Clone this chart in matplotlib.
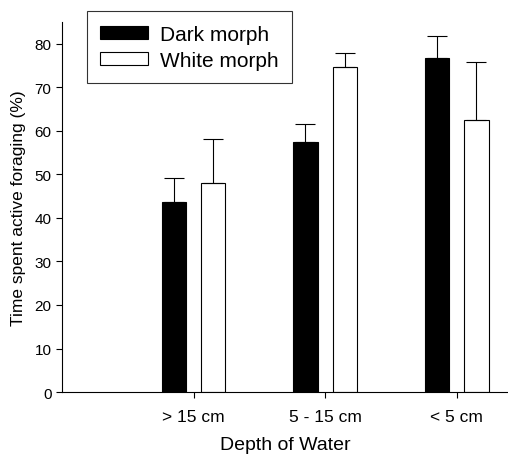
import matplotlib.pyplot as plt
import numpy as np

plt.rcParams['font.family'] = ['Liberation Sans', 'DejaVu Sans']

# Values
depths = ['> 15 cm', '5 - 15 cm', '< 5 cm']
dark_mean = [43.6, 57.4, 76.7]
dark_se = [5.5, 4.1, 5.2]
white_mean = [48.0, 74.6, 62.5]
white_se = [10.1, 3.4, 13.3]

x = np.arange(1, len(depths) + 1)
w = 0.185
off = 0.15

fig = plt.figure(figsize=(5.08, 4.64), dpi=100)
ax = fig.add_axes([0.122, 0.153, 0.878, 0.797])

ekw = dict(ecolor='black', elinewidth=0.8, capsize=7, capthick=0.8)
ax.bar(x - off, dark_mean, w, color='black', edgecolor='black', linewidth=0.8,
       label='Dark morph', yerr=[np.zeros(3), dark_se], error_kw=ekw)
ax.bar(x + off, white_mean, w, color='white', edgecolor='black', linewidth=0.8,
       label='White morph', yerr=[np.zeros(3), white_se], error_kw=ekw)

ax.set_xlim(0, 3.39)
ax.set_ylim(0, 85)
ax.set_yticks(np.arange(0, 81, 10))
ax.set_xticks(x)
ax.set_xticklabels(depths, fontsize=12.5)
ax.tick_params(axis='y', labelsize=11, length=4, width=0.8, direction='out')
ax.tick_params(axis='x', length=4, width=0.8, direction='out', pad=8)
ax.spines['top'].set_visible(False)
ax.spines['right'].set_visible(False)
ax.spines['left'].set_linewidth(0.8)
ax.spines['bottom'].set_linewidth(0.8)

ax.set_ylabel('Time spent active foraging (%)', fontsize=12.5, labelpad=6)
ax.set_xlabel('Depth of Water', fontsize=14, labelpad=9)

leg = fig.legend(loc='upper left', bbox_to_anchor=(0.171, 0.974), borderaxespad=0,
                 frameon=True, fancybox=False, edgecolor='black', fontsize=15,
                 handlelength=2.3, handleheight=0.6, borderpad=0.65, labelspacing=0.35,
                 handletextpad=0.55)
leg.get_frame().set_linewidth(0.8)

plt.savefig('out.png', dpi=100)
